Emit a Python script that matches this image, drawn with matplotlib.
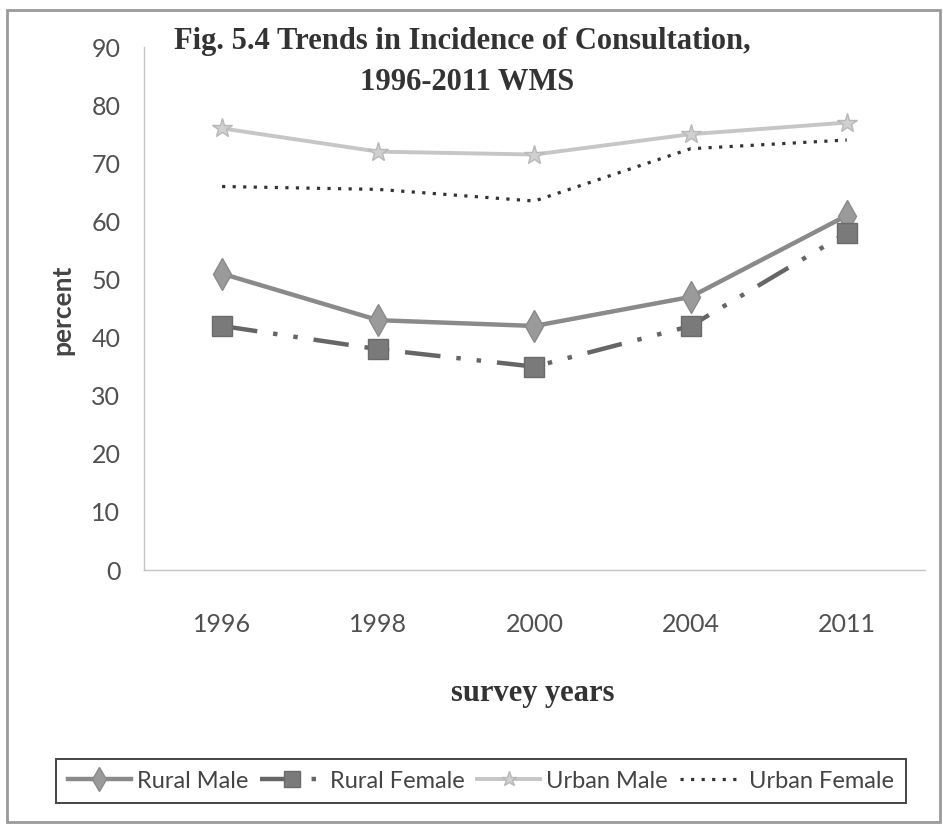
import matplotlib
matplotlib.use("Agg")
from matplotlib import pyplot as plt
from matplotlib.patches import Rectangle

years = ["1996", "1998", "2000", "2004", "2011"]
rural_male = [51, 43, 42, 47, 61]
rural_female = [42, 38, 35, 42, 58]
urban_male = [76, 72, 71.5, 75, 77]
urban_female = [66, 65.5, 63.5, 72.5, 74]

sans = ["Lato", "DejaVu Sans"]
serif = ["Liberation Serif", "DejaVu Serif"]

fig = plt.figure(figsize=(9.43, 8.25), dpi=100)
ax = fig.add_axes([0.1527, 0.309, 0.828, 0.634])

x = range(len(years))
ax.plot(x, rural_male, color="#8a8a8a", lw=3.2, marker="d", ms=16,
        mfc="#9a9a9a", mec="#8a8a8a", label="Rural Male")
ax.plot(x, rural_female, color="#666666", lw=3.2, ls=(0, (8, 3.6, 1, 3.6, 1, 3.6)),
        marker="s", ms=15, mfc="#7a7a7a", mec="#6a6a6a", label="Rural Female")
ax.plot(x, urban_male, color="#c6c6c6", lw=2.8, marker="*", ms=15,
        mfc="#d0d0d0", mec="#b8b8b8", label="Urban Male")
ax.plot(x, urban_female, color="#333333", lw=2.3, ls=(0, (1, 2.3)), label="Urban Female")

ax.set_xlim(-0.5, 4.5)
ax.set_ylim(0, 90)
ax.set_yticks(range(0, 91, 10))
ax.set_xticks(list(x))
ax.set_xticklabels(years)
for s in ["top", "right"]:
    ax.spines[s].set_visible(False)
for s in ["left", "bottom"]:
    ax.spines[s].set_color("#c4c4c4")
    ax.spines[s].set_linewidth(1.0)
ax.tick_params(axis="both", length=0, labelsize=18, labelcolor="#505050")
ax.tick_params(axis="y", pad=17)
ax.tick_params(axis="x", pad=31)
for lab in ax.get_xticklabels() + ax.get_yticklabels():
    lab.set_family(sans)

fig.text(462 / 943, 1 - 42 / 825, "Fig. 5.4 Trends in Incidence of Consultation,",
         ha="center", va="center", fontsize=22, fontweight="bold",
         family=serif, color="#333333")
fig.text(467 / 943, 1 - 82 / 825, "1996-2011 WMS",
         ha="center", va="center", fontsize=22, fontweight="bold",
         family=serif, color="#333333")
fig.text(62 / 943, 1 - 310 / 825, "percent", rotation=90, ha="center", va="center",
         fontsize=19, fontweight="bold", family=sans, color="#444444")
fig.text(533 / 943, 1 - 693 / 825, "survey years", ha="center", va="center",
         fontsize=22, fontweight="bold", family=serif, color="#333333")

leg = fig.legend(loc="center", bbox_to_anchor=(481 / 943, 1 - 781 / 825), ncol=4,
                 prop={"family": sans, "size": 17}, handlelength=2.7,
                 handletextpad=0.25, columnspacing=0.5, borderpad=0.5,
                 markerscale=0.75, fancybox=False, edgecolor="#444444", framealpha=1)
leg.get_frame().set_linewidth(1.4)
for t in leg.get_texts():
    t.set_color("#444444")

fig.patches.append(Rectangle((7 / 943, 3 / 825), 933 / 943, 812 / 825,
                             transform=fig.transFigure, fill=False,
                             edgecolor="#9a9a9a", lw=2))

plt.savefig("out.png")
plt.close()
